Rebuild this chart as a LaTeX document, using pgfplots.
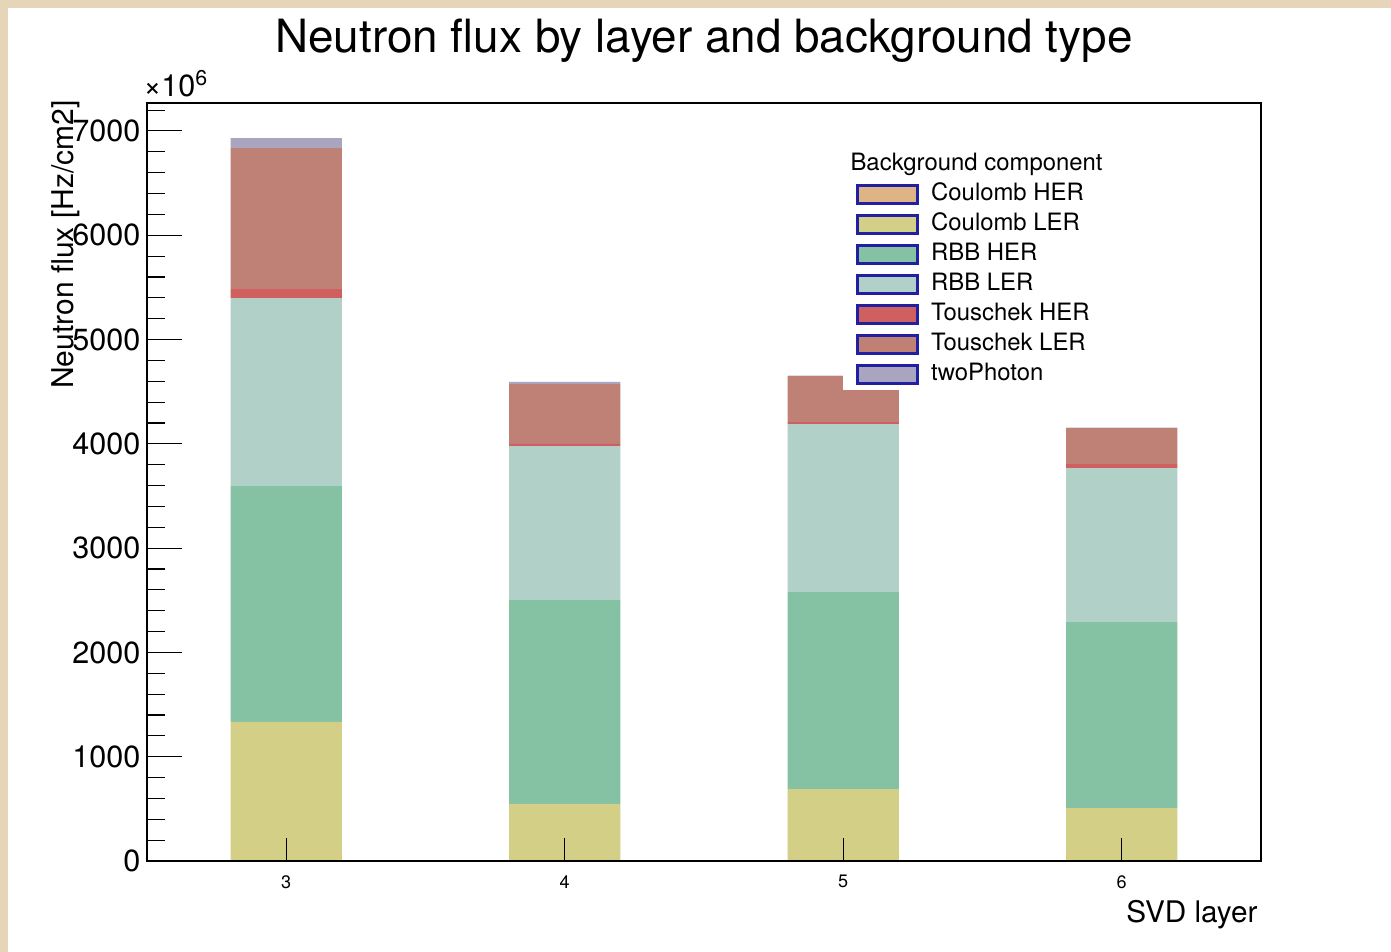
\documentclass[border=0pt]{standalone}
\usepackage{pgfplots}
\pgfplotsset{compat=1.18}
\usepackage{fontspec}
\setmainfont{TeX Gyre Heros}
\definecolor{bgbeige}{HTML}{E6D5B8}
\definecolor{cher}{HTML}{DFB484}
\definecolor{cler}{HTML}{D4CF87}
\definecolor{rher}{HTML}{84C2A3}
\definecolor{rler}{HTML}{B0D0C8}
\definecolor{ther}{HTML}{D06060}
\definecolor{tler}{HTML}{BF8075}
\definecolor{twop}{HTML}{A9A5C0}
\definecolor{legblue}{HTML}{2020A0}
\begin{document}
\begin{tikzpicture}[x=0.36pt,y=0.36pt]
\fill[bgbeige] (0,0) rectangle (1391,952);
\fill[white] (8,0) rectangle (1391,944);
\begin{axis}[
  at={(52.92pt,32.76pt)}, anchor=south west,
  scale only axis, width=401.04pt, height=272.88pt,
  xmin=2.5, xmax=6.5, ymin=0, ymax=7268,
  ybar stacked, bar width=0.4,
  axis on top,
  axis line style={line width=0.7pt},
  xtick={3,4,5,6}, ytick={0,1000,...,7000},
  minor ytick={200,400,...,7200},
  xtick pos=bottom, ytick pos=left, tick align=inside,
  major tick length=12.6pt, minor tick length=6.3pt,
  xtick style={/pgfplots/major tick length=8.3pt, line width=0.4pt, black},
  ytick style={line width=0.4pt, black},
  /pgf/number format/assume math mode=true,
  /pgf/number format/1000 sep={},
  scaled y ticks=false,
  yticklabel style={font=\fontsize{11}{13}\selectfont, inner sep=0pt, xshift=-2.2pt},
  xticklabel style={font=\fontsize{6.5}{8}\selectfont, inner sep=0pt, yshift=-5pt},
  legend image code/.code={\draw[#1, draw=legblue, line width=0.8pt] (0pt,-3.24pt) rectangle (21.6pt,3.24pt);},
  legend style={at={(0.6239,0.8997)}, anchor=north west, draw=none, fill=white,
    inner xsep=5pt, inner ysep=0pt, row sep=0pt,
    font=\fontsize{8.6}{10}\selectfont,
    nodes={inner sep=0pt, text height=7.5pt, text depth=3.3pt},
    /tikz/every odd column/.append style={column sep=4.5pt}},
  legend cell align=left,
]
\addplot[fill=cher, draw=none] coordinates {(3,5) (4,10) (5,10) (6,5)};
\addlegendentry{Coulomb HER}
\addplot[fill=cler, draw=none] coordinates {(3,1328) (4,537) (5,680) (6,503)};
\addlegendentry{Coulomb LER}
\addplot[fill=rher, draw=none] coordinates {(3,2262) (4,1955) (5,1889) (6,1783)};
\addlegendentry{RBB HER}
\addplot[fill=rler, draw=none] coordinates {(3,1803) (4,1477) (5,1611) (6,1477)};
\addlegendentry{RBB LER}
\addplot[fill=ther, draw=none] coordinates {(3,86) (4,21) (5,19) (6,38)};
\addlegendentry{Touschek HER}
\addplot[fill=tler, draw=none] coordinates {(3,1352) (4,573) (5,441) (6,345)};
\addlegendentry{Touschek LER}
\addplot[fill=twop, draw=none] coordinates {(3,96) (4,20) (5,5) (6,4)};
\addlegendentry{twoPhoton}
\end{axis}
\node[anchor=base, font=\fontsize{16.5}{19}\selectfont, inner sep=0pt] at (704,899) {Neutron flux by layer and background type};
\node[anchor=base west, font=\fontsize{11}{13}\selectfont, inner sep=0pt] at (143,855) {\texttimes10\textsuperscript{6}};
\node[rotate=90, anchor=east, font=\fontsize{10.8}{13}\selectfont, inner sep=0pt] at (66,852) {Neutron flux [Hz/cm2]};
\node[anchor=base east, font=\fontsize{10.7}{13}\selectfont, inner sep=0pt] at (1258,29) {SVD layer};
\node[anchor=west, font=\fontsize{8.6}{10}\selectfont, inner sep=0pt, fill=white] at (850,788) {Background component};
\end{tikzpicture}
\end{document}
